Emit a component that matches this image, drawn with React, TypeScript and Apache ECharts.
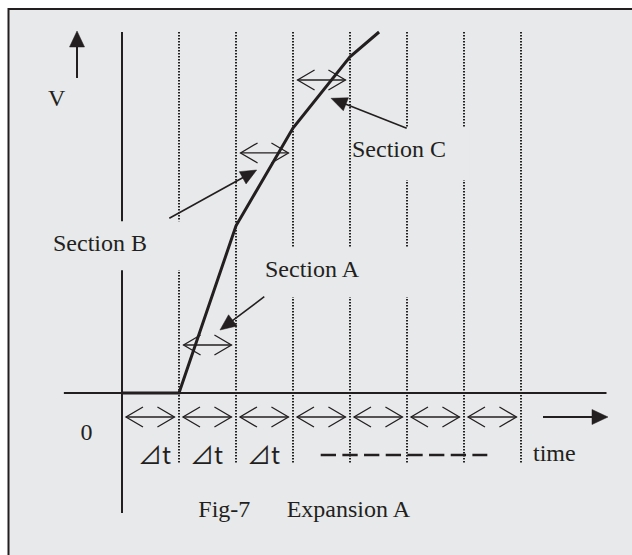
import React, { useEffect, useRef } from "react";
import * as echarts from "echarts";

// ---- chart values (time in Δt units, V in % of full scale) ----
const curveTime = [0, 1, 2, 3, 4, 4.51];
const curveV = [0, 0, 46.3, 73.4, 93.1, 100];

// Δt boundaries drawn as dotted verticals
const gridTimes = [1, 2, 3, 4, 5, 6, 7];
const gridTopV = 100;
const gridBottomV = -19.4;

// Δt interval arrows under the time axis
const intervalStarts = [0, 1, 2, 3, 4, 5, 6];
const intervalArrowV = -6.65;

// Section arrows: interval index and V level
const sectionNames = ["Section A", "Section B", "Section C"];
const sectionIntervals = [1, 2, 3];
const sectionArrowV = [13.3, 66.5, 86.7];

// Δt marks under the first three intervals
const deltaMarkText = "⊿t";
const deltaMarkT = [0.281, 1.193, 2.193];
const deltaMarkV = -16.76;

// Axis extents
const timeMin = -1;
const timeMax = 8.5;
const vMin = -33.24;
const vMax = 100;

// Pointer arrows [tailT, tailV, tipT, tipV]
const pointerSectionB = [0.83, 48.39, 2.363, 61.77];
const pointerSectionC = [4.995, 73.32, 3.667, 81.63];
const pointerSectionA = [2.496, 26.68, 1.719, 17.45];
const arrowV = [-0.789, 87.26, -0.789, 100.28];
const arrowTime = [7.386, -6.65, 8.526, -6.65];

// Dashed continuation line [t0, t1, v]
const dashedRun = [3.486, 6.409, -17.17];

// Text labels and their anchors (t, V)
const labelTexts = ["V", "Section B", "Section A", "Section C", "0", "time", "Fig-7", "Expansion A"];
const labelT = [-1.298, -1.211, 2.509, 4.035, -0.623, 7.21, 1.339, 2.889];
const labelV = [81.7, 41.55, 34.35, 67.6, -10.8, -16.62, -32.0, -32.0];
const labelAlign = ["left", "left", "left", "left", "center", "left", "left", "left"];

// Label boxes that interrupt the lines behind them [t0, v0, t1, v1]
const labelBoxes = [
  [-1.35, 47.6, 1.105, 34.0],
  [2.46, 40.2, 5.16, 26.6],
  [4.03, 73.4, 6.1, 59.0],
];

const INK = "#231f20";
const BG = "#e8e9eb";
const SERIF = '"Liberation Serif", "Times New Roman", serif';

function doubleArrow(p0: number[], p1: number[]) {
  const w = 1.3;
  return {
    type: "group",
    children: [
      { type: "line", shape: { x1: p0[0], y1: p0[1], x2: p1[0], y2: p1[1] }, style: { stroke: INK, lineWidth: w } },
      {
        type: "polyline",
        shape: { points: [[p0[0] + 17, p0[1] - 10], [p0[0], p0[1]], [p0[0] + 17, p0[1] + 10]] },
        style: { stroke: INK, lineWidth: w, fill: null },
      },
      {
        type: "polyline",
        shape: { points: [[p1[0] - 17, p1[1] - 10], [p1[0], p1[1]], [p1[0] - 17, p1[1] + 10]] },
        style: { stroke: INK, lineWidth: w, fill: null },
      },
    ],
  };
}

function pointer(tail: number[], tip: number[], len: number, half: number, w: number) {
  const dx = tip[0] - tail[0];
  const dy = tip[1] - tail[1];
  const d = Math.sqrt(dx * dx + dy * dy) || 1;
  const ux = dx / d;
  const uy = dy / d;
  const bx = tip[0] - ux * len;
  const by = tip[1] - uy * len;
  return {
    type: "group",
    children: [
      { type: "line", shape: { x1: tail[0], y1: tail[1], x2: bx + ux * 2, y2: by + uy * 2 }, style: { stroke: INK, lineWidth: w } },
      {
        type: "polygon",
        shape: { points: [[tip[0], tip[1]], [bx - uy * half, by + ux * half], [bx + uy * half, by - ux * half]] },
        style: { fill: INK, stroke: INK, lineWidth: 0.5 },
      },
    ],
  };
}

export default function App() {
  const ref = useRef<HTMLDivElement>(null);
  useEffect(() => {
    if (!ref.current) return;
    const chart = echarts.init(ref.current, null, { renderer: "svg" });

    const intervalArrows = intervalStarts.map((s) => [s + 0.07, s + 0.92, intervalArrowV]);
    const sectionArrows = sectionIntervals.map((s, i) => [s + 0.08, s + 0.92, sectionArrowV[i]]);
    const pointers = [pointerSectionB, pointerSectionC, pointerSectionA];

    const option: any = {
      animation: false,
      backgroundColor: "#ffffff",
      grid: { left: 65, top: 32, width: 541.5, height: 481, show: false },
      xAxis: { type: "value", min: timeMin, max: timeMax, show: false },
      yAxis: { type: "value", min: vMin, max: vMax, show: false },
      graphic: [
        {
          type: "rect",
          z: -100,
          silent: true,
          shape: { x: 8.5, y: 9, width: 700, height: 700 },
          style: { fill: BG, stroke: INK, lineWidth: 2 },
        },
      ],
      series: [
        {
          type: "custom",
          name: "grid",
          z: 2,
          silent: true,
          data: gridTimes.map((t) => [t, gridTopV, gridBottomV]),
          renderItem: (_p: any, api: any) => {
            const a = api.coord([api.value(0), api.value(1)]);
            const b = api.coord([api.value(0), api.value(2)]);
            return {
              type: "line",
              shape: { x1: a[0], y1: a[1], x2: b[0], y2: b[1] },
              style: { stroke: "#000000", lineWidth: 1.7, lineDash: [1.5, 1.5] },
            };
          },
        },
        {
          type: "custom",
          name: "axes",
          z: 3,
          silent: true,
          data: [
            [0, vMin, 0, vMax],
            [-1.02, 0, timeMax, 0],
          ],
          renderItem: (_p: any, api: any) => {
            const a = api.coord([api.value(0), api.value(1)]);
            const b = api.coord([api.value(2), api.value(3)]);
            return { type: "line", shape: { x1: a[0], y1: a[1], x2: b[0], y2: b[1] }, style: { stroke: INK, lineWidth: 2 } };
          },
        },
        {
          type: "custom",
          name: "dashed",
          z: 3,
          silent: true,
          data: [dashedRun],
          renderItem: (_p: any, api: any) => {
            const a = api.coord([api.value(0), api.value(2)]);
            const b = api.coord([api.value(1), api.value(2)]);
            return {
              type: "line",
              shape: { x1: a[0], y1: a[1], x2: b[0], y2: b[1] },
              style: { stroke: INK, lineWidth: 2.5, lineDash: [15.3, 6.37] },
            };
          },
        },
        {
          type: "custom",
          name: "boxes",
          z: 4,
          silent: true,
          data: labelBoxes,
          renderItem: (_p: any, api: any) => {
            const a = api.coord([api.value(0), api.value(1)]);
            const b = api.coord([api.value(2), api.value(3)]);
            return {
              type: "rect",
              shape: { x: a[0], y: a[1], width: b[0] - a[0], height: b[1] - a[1] },
              style: { fill: BG },
            };
          },
        },
        {
          type: "line",
          name: "V",
          z: 5,
          clip: false,
          symbol: "none",
          data: curveTime.map((t, i) => [t, curveV[i]]),
          lineStyle: { color: INK, width: 3, join: "miter" },
        },
        {
          type: "custom",
          name: "interval arrows",
          z: 6,
          silent: true,
          data: [...intervalArrows, ...sectionArrows],
          renderItem: (_p: any, api: any) => {
            const a = api.coord([api.value(0), api.value(2)]);
            const b = api.coord([api.value(1), api.value(2)]);
            return doubleArrow(a, b);
          },
        },
        {
          type: "custom",
          name: "pointers",
          z: 6,
          silent: true,
          data: [...pointers, arrowV, arrowTime],
          renderItem: (p: any, api: any) => {
            const a = api.coord([api.value(0), api.value(1)]);
            const b = api.coord([api.value(2), api.value(3)]);
            const axisArrow = p.dataIndex >= 3;
            return axisArrow ? pointer(a, b, 16, 7.5, 2) : pointer(a, b, 16, 7, 1.6);
          },
        },
        {
          type: "custom",
          name: "labels",
          z: 7,
          silent: true,
          data: labelTexts.map((_s, i) => [labelT[i], labelV[i]]),
          renderItem: (p: any, api: any) => {
            const a = api.coord([api.value(0), api.value(1)]);
            return {
              type: "text",
              x: a[0],
              y: a[1],
              style: {
                text: labelTexts[p.dataIndex],
                font: `24px ${SERIF}`,
                fill: INK,
                align: labelAlign[p.dataIndex],
                verticalAlign: "middle",
              },
            };
          },
        },
        {
          type: "custom",
          name: "delta marks",
          z: 7,
          silent: true,
          data: deltaMarkT.map((t) => [t, deltaMarkV]),
          renderItem: (_p: any, api: any) => {
            const a = api.coord([api.value(0), api.value(1)]);
            return {
              type: "text",
              x: a[0],
              y: a[1],
              style: {
                text: deltaMarkText,
                font: '24px "Noto Sans CJK JP"',
                fill: INK,
                align: "left",
                verticalAlign: "middle",
              },
            };
          },
        },
      ],
    };
    chart.setOption(option);
    return () => chart.dispose();
  }, []);
  return (
    <div
      ref={ref}
      style={{ position: "fixed", left: 0, top: 0, width: 632, height: 555 }}
    />
  );
}
